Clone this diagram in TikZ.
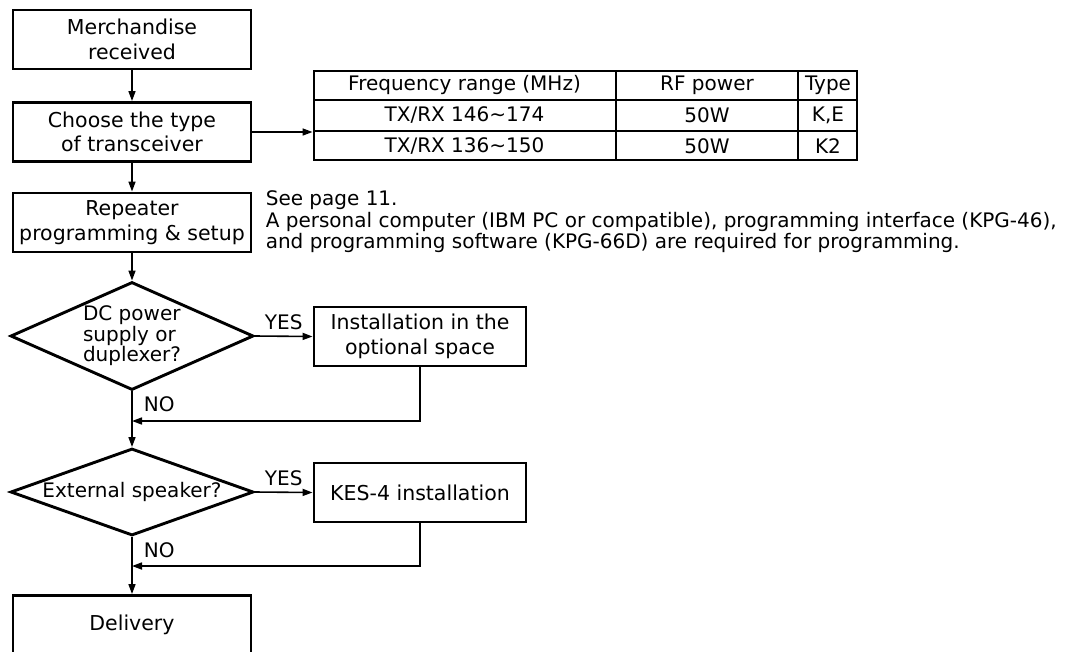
\documentclass[tikz,border=0pt]{standalone}
\usepackage{fontspec}
\setmainfont{DejaVu Sans}
\usetikzlibrary{shapes.geometric, arrows.meta}

\begin{document}
\begin{tikzpicture}[
        ->,
        >={Triangle[length=10pt, width=7pt]},
        line width=1.6pt,
        every node/.style={font=\fontsize{20}{20.5}\selectfont, inner sep=0pt},
        box/.style={draw, line width=2.9pt, align=center, minimum width=238pt, minimum height=59pt,
                font=\fontsize{20.5}{24.5}\selectfont},
        sidebox/.style={box, minimum width=212pt},
        decision/.style={draw, diamond, line width=2.9pt, align=center},
        x=1pt,
        y=-1pt
    ]
    \useasboundingbox (0,0) rectangle (1065,651);

    \node[box] (recv) at (132,39.5) {Merchandise\\received};
    \node[box] (choose) at (132,132) {Choose the type\\of transceiver};
    \node[box] (prog) at (132,222.5) {Repeater\\programming \& setup};
    \node[decision, align=left, minimum width=243pt, minimum height=108pt, aspect=2.25] (dcq) at (132,336)
        {DC power\\supply or\\duplexer?};
    \node[sidebox] (inst) at (420,336.5) {Installation in the\\optional space};
    \node[decision, minimum width=243pt, minimum height=87pt, aspect=2.8] (spkq) at (132,492)
        {External speaker?};
    \node[sidebox] (kes) at (420,492.5) {KES-4 installation};
    \node[box] (deliv) at (132,625) {Delivery};

    % frequency table
    \node[draw, -, line width=2.9pt, minimum width=543pt, minimum height=89pt] (tbl) at (585.5,115.5) {};
    \foreach \y in {100,131} \draw[-] (313,\y) -- (858,\y);
    \foreach \x in {616,798} \draw[-] (\x,70) -- (\x,161);
    \node (hFreq) at (464.5,85) {Frequency range (MHz)};
    \node (hPow) at (707,85) {RF power};
    \node (hType) at (828,85) {Type};
    \node (aFreq) at (464.5,115.5) {TX/RX 146\textasciitilde174};
    \node (aPow) at (707,115.5) {50W};
    \node (aType) at (828,115.5) {K,E};
    \node (bFreq) at (464.5,146) {TX/RX 136\textasciitilde150};
    \node (bPow) at (707,146) {50W};
    \node (bType) at (828,146) {K2};

    \node[anchor=north west, align=left, font=\fontsize{20}{21.5}\selectfont] (note) at (265,190) {
            See page 11.\\
            A personal computer (IBM PC or compatible), programming interface (KPG-46),\\
            and programming software (KPG-66D) are required for programming.
        };

    \coordinate (j1) at (132,421);
    \coordinate (j2) at (132,566);

    \draw (recv) -- (choose);
    \draw (choose) -- (prog);
    \draw (choose.east) -- (choose.east -| tbl.west);
    \draw (prog) -- (dcq);
    \draw (dcq.east) -- node[above=6pt]{YES} (inst.west);
    \draw (dcq.south) -- (spkq.north);
    \draw (inst.south) |- (j1);
    \node[anchor=west] (no1) at (143,404) {NO};

    \draw (spkq.east) -- node[above=6pt]{YES} (kes.west);
    \draw (spkq.south) -- (deliv.north);
    \draw (kes.south) |- (j2);
    \node[anchor=west] (no2) at (143,550) {NO};
\end{tikzpicture}
\end{document}
